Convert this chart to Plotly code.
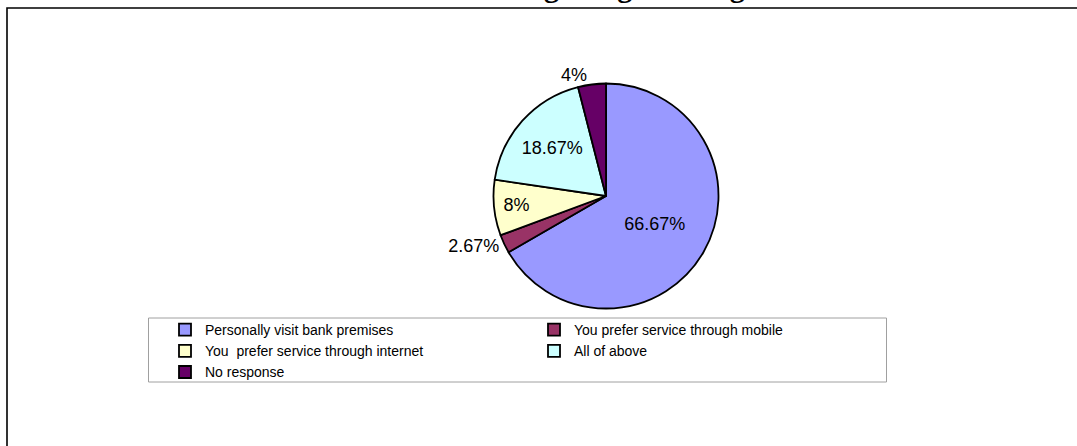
import plotly.graph_objects as go

W, H = 1077, 446

title_text = "Preference for getting banking services"
labels = [
    "Personally visit bank premises",
    "You prefer service through mobile",
    "You  prefer service through internet",
    "All of above",
    "No response",
]
values = [66.67, 2.67, 8, 18.67, 4]
colors = ["#9999FF", "#993366", "#FFFFCC", "#CCFFFF", "#660066"]
text_positions = ["inside", "outside", "inside", "inside", "outside"]

def px_x(v):
    return v / W

def px_y(v):
    return 1 - v / H

fig = go.Figure()
fig.add_trace(go.Pie(
    labels=labels,
    values=values,
    sort=False,
    direction="clockwise",
    rotation=0,
    marker=dict(colors=colors, line=dict(color="#000000", width=1.8)),
    texttemplate="%{value}%",
    textposition=text_positions,
    insidetextorientation="horizontal",
    textfont=dict(family="Liberation Sans, Arial, sans-serif", size=18, color="#000000"),
    domain=dict(x=[px_x(493.5), px_x(718.5)], y=[px_y(308.5), px_y(83.5)]),
    hoverinfo="label+value",
))

fig.update_layout(
    width=W, height=H,
    margin=dict(l=0, r=0, t=0, b=0),
    paper_bgcolor="#FFFFFF",
    plot_bgcolor="#FFFFFF",
    showlegend=True,
    legend=dict(
        orientation="h",
        x=px_x(165), xanchor="left",
        y=px_y(314), yanchor="top",
        entrywidth=324, entrywidthmode="pixels",
        traceorder="normal",
        font=dict(family="Liberation Sans, Arial, sans-serif", size=14, color="#000000"),
        bgcolor="rgba(0,0,0,0)",
        borderwidth=0,
    ),
    shapes=[
        dict(type="rect", xref="paper", yref="paper",
             x0=px_x(7), x1=1.05, y0=-0.05, y1=px_y(8),
             line=dict(color="#000000", width=1.6), layer="below"),
        dict(type="rect", xref="paper", yref="paper",
             x0=px_x(148.5), x1=px_x(886.5), y0=px_y(382), y1=px_y(318),
             line=dict(color="#A0A0A0", width=1), layer="below"),
    ],
    annotations=[
        dict(text="<b>" + title_text + "</b>", xref="paper", yref="paper",
             x=px_x(603), xanchor="center", y=px_y(5), yanchor="bottom",
             showarrow=False,
             font=dict(family="Liberation Serif, Times New Roman, serif", size=30, color="#000000")),
    ],
)

fig.write_html("out.html")
